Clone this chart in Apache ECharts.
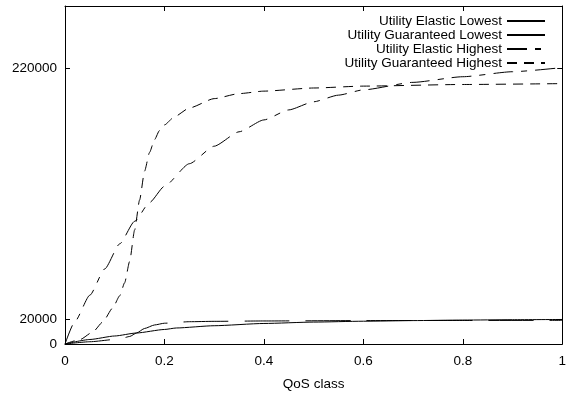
<!DOCTYPE html>
<html>
<head>
<meta charset="utf-8">
<script src="https://cdn.jsdelivr.net/npm/echarts@6/dist/echarts.min.js"></script>
<style>
  body{margin:0;background:#fff;}
  #chart{width:569px;height:400px;}
</style>
</head>
<body>
<div id="chart"></div>
<script>
// QoS class values (x) and utility values (y)
var elasticLowX  = [0, 0.05, 0.1, 0.144, 0.2, 0.224, 0.3, 0.4, 0.5, 0.6, 0.7, 0.8, 0.9, 1];
var elasticLowY  = [0, 3600, 6400, 8800, 11600, 12800, 14600, 16400, 17500, 18200, 18700, 19100, 19400, 19600];

var guarLowX = [0, 0.05, 0.11, 0.13, 0.144, 0.16, 0.18, 0.2, 0.25, 0.3, 0.4, 0.6, 0.8, 1];
var guarLowY = [0, 1800, 4000, 6000, 8800, 12400, 15200, 16600, 17800, 18100, 18400, 18700, 18800, 18900];

var elasticHighX = [0, 0.02, 0.05, 0.08, 0.11, 0.14, 0.17, 0.2, 0.25, 0.3, 0.35, 0.4, 0.45, 0.5, 0.55, 0.6, 0.7, 0.8, 0.9, 1];
var elasticHighY = [0, 18000, 39000, 60000, 80000, 98000, 113000, 126000, 144000, 158000, 169500, 179000, 187000, 193500, 198800, 203000, 209000, 213500, 217500, 220800];

var guarHighX = [0, 0.03, 0.056, 0.076, 0.096, 0.11, 0.12, 0.13, 0.14, 0.15, 0.16, 0.17, 0.18, 0.19, 0.2, 0.22, 0.25, 0.3, 0.35, 0.4, 0.5, 0.6, 0.8, 1];
var guarHighY = [0, 3500, 9600, 17600, 28800, 38500, 49000, 66000, 91000, 115000, 138000, 153000, 163200, 170500, 175000, 181500, 188500, 196000, 200000, 202000, 204500, 206000, 207300, 208000];

var yTicks = [0, 20000, 220000];
var xTicks = [0, 0.2, 0.4, 0.6, 0.8, 1];

function pairs(xs, ys) {
  return xs.map(function (x, i) { return [x, ys[i]]; });
}

var chart = echarts.init(document.getElementById('chart'));
var font = 'Liberation Sans, Arial, sans-serif';
var fs = 13.5;

function line(name, xs, ys, dash) {
  return {
    name: name,
    type: 'line',
    data: pairs(xs, ys),
    symbol: 'none',
    smooth: 0.2,
    smoothMonotone: 'x',
    lineStyle: { color: '#000', width: 1, type: dash },
    itemStyle: { color: '#000' },
    animation: false
  };
}

var option = {
  animation: false,
  textStyle: { fontFamily: font },
  grid: { left: 65, right: 4, top: 6, bottom: 56, show: false },
  legend: {
    orient: 'vertical',
    right: 18,
    top: 9,
    align: 'right',
    itemGap: 0,
    itemWidth: 38,
    itemHeight: 2,
    textStyle: { fontFamily: font, fontSize: fs, color: '#000' },
    data: ['Utility Elastic Lowest', 'Utility Guaranteed Lowest', 'Utility Elastic Highest', 'Utility Guaranteed Highest']
  },
  xAxis: [{
    type: 'value', min: 0, max: 1, interval: 0.2,
    name: 'QoS class', nameLocation: 'middle', nameGap: 33,
    nameTextStyle: { fontFamily: font, fontSize: fs, color: '#000' },
    axisLine: { onZero: false, lineStyle: { color: '#000', width: 1 } },
    axisTick: { inside: true, length: 5, lineStyle: { color: '#000' } },
    axisLabel: { color: '#000', fontSize: fs, margin: 10, fontFamily: font,
      customValues: xTicks, formatter: function (v) { return String(+v.toFixed(1)); } },
    splitLine: { show: false }
  }, {
    type: 'value', min: 0, max: 1, interval: 0.2, position: 'top',
    axisLine: { onZero: false, lineStyle: { color: '#000', width: 1 } },
    axisTick: { inside: true, length: 5, lineStyle: { color: '#000' } },
    axisLabel: { show: false },
    splitLine: { show: false }
  }],
  yAxis: [{
    type: 'value', min: 0, max: 270000,
    axisLine: { show: true, onZero: false, lineStyle: { color: '#000', width: 1 } },
    axisTick: { show: true, inside: true, length: 5, customValues: yTicks, lineStyle: { color: '#000' } },
    axisLabel: { color: '#000', fontSize: fs, margin: 8, fontFamily: font, customValues: yTicks,
      formatter: function (v) { return String(v); } },
    splitLine: { show: false }
  }, {
    type: 'value', min: 0, max: 270000, position: 'right',
    axisLine: { show: true, onZero: false, lineStyle: { color: '#000', width: 1 } },
    axisTick: { show: true, inside: true, length: 5, customValues: yTicks, lineStyle: { color: '#000' } },
    axisLabel: { show: false },
    splitLine: { show: false }
  }],
  series: [
    line('Utility Elastic Lowest', elasticLowX, elasticLowY, 'solid'),
    line('Utility Guaranteed Lowest', guarLowX, guarLowY, [45, 16]),
    line('Utility Elastic Highest', elasticHighX, elasticHighY, [20, 8, 6, 8]),
    line('Utility Guaranteed Highest', guarHighX, guarHighY, [10, 7])
  ]
};

chart.setOption(option);
</script>
</body>
</html>
